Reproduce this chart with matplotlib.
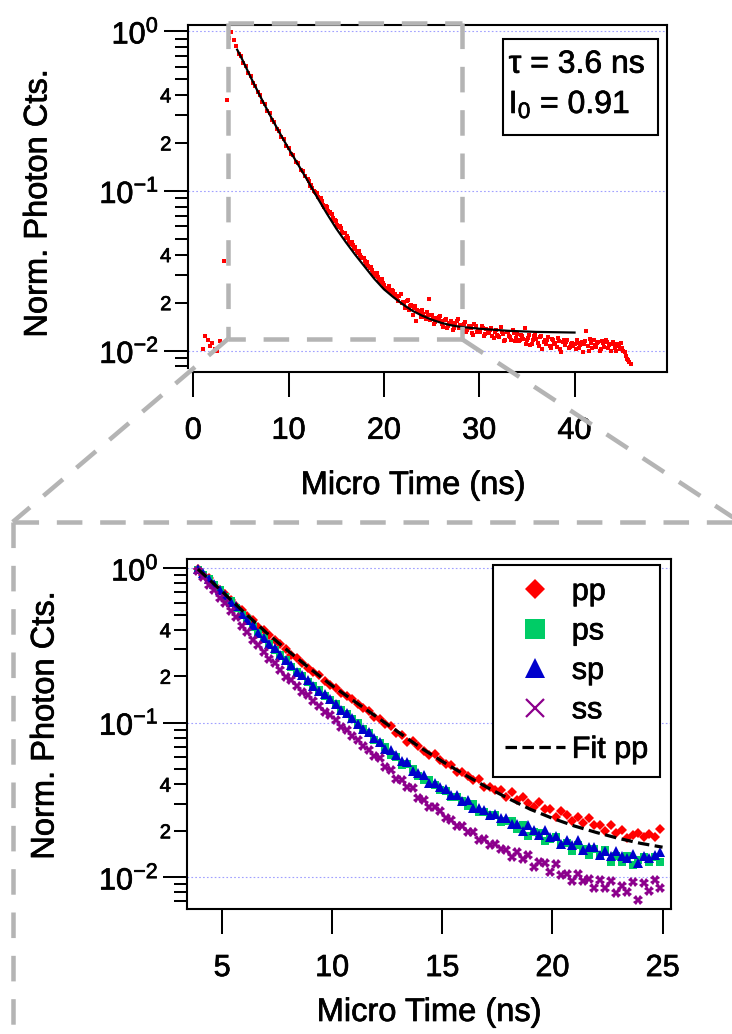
import numpy as np
import matplotlib
matplotlib.use('Agg')
import matplotlib.pyplot as plt
import matplotlib.patheffects as pe
from matplotlib.lines import Line2D
from matplotlib.patches import Rectangle
from matplotlib.text import Text
from matplotlib.ticker import FixedLocator, FixedFormatter, LogLocator, FuncFormatter, NullLocator

plt.rcParams['font.family'] = ['Liberation Sans', 'DejaVu Sans']
plt.rcParams['mathtext.fontset'] = 'custom'
plt.rcParams['mathtext.rm'] = 'Liberation Sans'
plt.rcParams['mathtext.it'] = 'Liberation Sans:italic'
plt.rcParams['mathtext.bf'] = 'Liberation Sans:bold'

# ---------------- data (log10 of normalised photon counts) ----------------
# top panel: full decay, time bins 1.0 ... 45.75 ns, step 0.25 ns
top_t0, top_dt = 1.0, 0.25
top_log = [
    -1.99, -1.91, -1.93, -1.97,   -1.95, -1.99, -2.00, -1.94,
    -1.95, -1.44, -0.43, -0.04,   -0.005, -0.055, -0.095, -0.140,
    -0.152, -0.198, -0.215, -0.262, -0.278, -0.322, -0.340, -0.383,
    -0.398, -0.441, -0.455, -0.497, -0.512, -0.556, -0.569, -0.611,
    -0.622, -0.664, -0.675, -0.716, -0.728, -0.768, -0.776, -0.818,
    -0.826, -0.869, -0.877, -0.905, -0.925, -0.968, -0.978, -1.008,
    -1.015, -1.050, -1.062, -1.098, -1.100, -1.138, -1.145, -1.185,
    -1.185, -1.228, -1.232, -1.262, -1.292, -1.295, -1.330, -1.335,
    -1.352, -1.385, -1.402, -1.420, -1.440, -1.445, -1.480, -1.492,
    -1.520, -1.515, -1.560, -1.548, -1.590, -1.615, -1.597, -1.640,
    -1.628, -1.660, -1.690, -1.645, -1.695, -1.735, -1.680, -1.722,
    -1.778, -1.720, -1.742, -1.760, -1.745, -1.790, -1.760, -1.675,
    -1.778, -1.835, -1.795, -1.790, -1.812, -1.850, -1.800, -1.842,
    -1.815, -1.872, -1.828, -1.800, -1.838, -1.875, -1.822, -1.868,
    -1.842, -1.890, -1.835, -1.880, -1.870, -1.845, -1.905, -1.862,
    -1.890, -1.858, -1.920, -1.872, -1.905, -1.850, -1.895, -1.930,
    -1.880, -1.915, -1.870, -1.942, -1.895, -1.930, -1.905, -1.860,
    -1.935, -1.900, -1.955, -1.910, -1.925, -1.970, -1.905, -1.945,
    -1.960, -1.915, -1.980, -1.935, -1.950, -1.920, -1.990, -1.945,
    -1.965, -1.930, -1.975, -1.950, -1.960, -1.935, -1.985, -1.945,
    -1.955, -1.875, -2.000, -1.950, -1.935, -1.975, -1.945, -1.990,
    -1.950, -1.930, -1.985, -1.960, -1.945, -1.980, -1.955, -1.990,
    -1.985, -2.010, -2.050, -2.070,
]
# top panel: samples lying between the above bins, 12.125 ... 45.875 ns
top_mid_t0 = 12.125
top_mid_log = [
    -0.940, -0.960, -1.000, -1.012, -1.035, -1.045, -1.085, -1.095,
    -1.125, -1.130, -1.170, -1.180, -1.210, -1.220, -1.255, -1.262,
    -1.280, -1.318, -1.322, -1.360, -1.375, -1.378, -1.415, -1.418,
    -1.455, -1.470, -1.478, -1.515, -1.530, -1.540, -1.572, -1.575,
    -1.610, -1.605, -1.632, -1.620, -1.642, -1.672, -1.655, -1.700,
    -1.702, -1.690, -1.745, -1.715, -1.735, -1.815, -1.750, -1.790,
    -1.770, -1.800, -1.775, -1.805, -1.795, -1.820, -1.810, -1.780,
    -1.830, -1.805, -1.858, -1.825, -1.835, -1.860, -1.812, -1.855,
    -1.860, -1.830, -1.880, -1.845, -1.855, -1.900, -1.848, -1.870,
    -1.885, -1.855, -1.895, -1.875, -1.870, -1.910, -1.880, -1.900,
    -1.915, -1.885, -1.940, -1.880, -1.905, -1.930, -1.890, -1.920,
    -1.940, -1.900, -1.925, -1.955, -1.920, -1.965, -1.930, -1.900,
    -1.950, -1.915, -1.990, -1.930, -1.935, -1.970, -1.925, -1.960,
    -1.975, -1.940, -2.010, -1.930, -1.945, -1.985, -1.955, -1.970,
    -1.990, -1.950, -1.965, -2.005, -1.940, -1.970, -1.925, -1.985,
    -1.965, -1.950, -2.000, -1.940, -1.975, -1.945, -1.965, -2.000,
    -1.960, -2.000, -1.970, -1.950, -2.000, -2.030, -2.060, -2.080,
]
top_fit_t = [4.6, 5, 6, 7, 8, 9, 10, 11, 12, 13, 14, 15, 16, 17, 18, 19, 20,
             21, 22, 23, 24, 25, 26, 27, 28, 30, 33, 36, 40]
top_fit_log = [-0.115, -0.16, -0.285, -0.405, -0.52, -0.63, -0.735, -0.835,
               -0.935, -1.04, -1.14, -1.235, -1.32, -1.40, -1.475, -1.55,
               -1.615, -1.665, -1.71, -1.75, -1.78, -1.805, -1.825, -1.84,
               -1.85, -1.862, -1.875, -1.882, -1.886]
tau_text = "τ = 3.6 ns"
i0_text = r"$\mathregular{I_0}$ = 0.91"

# bottom panel: zoom, time bins 3.9 ... 24.9 ns, step 0.25 ns
bot_t0, bot_dt = 3.9, 0.25
pp_log = [
    -0.003, -0.042, -0.065, -0.106, -0.143, -0.168, -0.204, -0.245, -0.267, -0.309,
    -0.337, -0.377, -0.398, -0.433, -0.466, -0.488, -0.525, -0.561, -0.578, -0.610,
    -0.645, -0.668, -0.692, -0.731, -0.756, -0.776, -0.809, -0.826, -0.844, -0.879,
    -0.902, -0.924, -0.961, -0.974, -1.007, -1.018, -1.065, -1.076, -1.123, -1.116,
    -1.147, -1.184, -1.211, -1.204, -1.240, -1.266, -1.272, -1.316, -1.316, -1.342,
    -1.370, -1.364, -1.414, -1.415, -1.436, -1.435, -1.480, -1.450, -1.498, -1.483,
    -1.517, -1.547, -1.513, -1.560, -1.555, -1.608, -1.571, -1.597, -1.637, -1.610,
    -1.649, -1.614, -1.660, -1.660, -1.699, -1.664, -1.711, -1.692, -1.745, -1.725,
    -1.711, -1.741, -1.721, -1.741, -1.686,
]
ps_log = [
    -0.008, -0.043, -0.067, -0.109, -0.139, -0.184, -0.214, -0.258, -0.301, -0.331,
    -0.377, -0.422, -0.449, -0.489, -0.531, -0.561, -0.594, -0.639, -0.668, -0.696,
    -0.737, -0.761, -0.785, -0.825, -0.852, -0.879, -0.920, -0.943, -0.978, -1.003,
    -1.041, -1.068, -1.109, -1.131, -1.156, -1.207, -1.222, -1.272, -1.267, -1.301,
    -1.342, -1.373, -1.367, -1.404, -1.432, -1.439, -1.483, -1.483, -1.509, -1.536,
    -1.527, -1.575, -1.576, -1.598, -1.597, -1.642, -1.633, -1.637, -1.685, -1.661,
    -1.734, -1.709, -1.710, -1.762, -1.750, -1.740, -1.790, -1.777, -1.827, -1.792,
    -1.815, -1.853, -1.818, -1.855, -1.826, -1.901, -1.865, -1.898, -1.862, -1.922,
    -1.889, -1.867, -1.900, -1.871, -1.901,
]
sp_log = [
    -0.002, -0.030, -0.070, -0.101, -0.143, -0.170, -0.216, -0.247, -0.299, -0.332,
    -0.369, -0.417, -0.448, -0.489, -0.517, -0.563, -0.596, -0.625, -0.669, -0.693,
    -0.723, -0.760, -0.793, -0.812, -0.849, -0.876, -0.916, -0.939, -0.968, -1.006,
    -1.039, -1.059, -1.100, -1.125, -1.170, -1.175, -1.208, -1.250, -1.253, -1.309,
    -1.324, -1.335, -1.389, -1.390, -1.418, -1.429, -1.467, -1.465, -1.503, -1.498,
    -1.549, -1.549, -1.562, -1.596, -1.589, -1.618, -1.615, -1.657, -1.657, -1.702,
    -1.664, -1.691, -1.728, -1.695, -1.739, -1.733, -1.782, -1.759, -1.791, -1.760,
    -1.822, -1.807, -1.803, -1.858, -1.832, -1.862, -1.832, -1.863, -1.875, -1.852,
    -1.909, -1.863, -1.876, -1.857, -1.834,
]
ss_log = [
    -0.020, -0.056, -0.106, -0.139, -0.190, -0.224, -0.278, -0.317, -0.375, -0.415,
    -0.465, -0.497, -0.541, -0.588, -0.614, -0.659, -0.701, -0.725, -0.760, -0.799,
    -0.820, -0.862, -0.890, -0.927, -0.949, -0.979, -1.024, -1.048, -1.086, -1.110,
    -1.148, -1.173, -1.217, -1.231, -1.289, -1.307, -1.363, -1.367, -1.414, -1.423,
    -1.485, -1.500, -1.547, -1.547, -1.568, -1.617, -1.629, -1.671, -1.669, -1.708,
    -1.704, -1.758, -1.754, -1.790, -1.782, -1.816, -1.823, -1.871, -1.833, -1.883,
    -1.853, -1.934, -1.904, -1.906, -1.964, -1.917, -1.983, -1.977, -2.027, -1.978,
    -2.024, -2.010, -2.072, -2.020, -2.070, -2.024, -2.103, -2.054, -2.095, -2.032,
    -2.150, -2.037, -2.086, -2.017, -2.072,
]
fit_t = [3.9, 5, 6, 7, 8, 9, 10, 11, 12, 13, 14, 15, 16, 17, 18, 19, 20, 21, 22, 23, 24, 25]
fit_log = [-0.005, -0.15, -0.285, -0.415, -0.535, -0.65, -0.76, -0.86, -0.96, -1.06,
           -1.16, -1.25, -1.335, -1.415, -1.49, -1.56, -1.618, -1.668, -1.71, -1.748,
           -1.78, -1.805]
series_names = ['pp', 'ps', 'sp', 'ss']
fit_name = 'Fit pp'

top_xticks = [0, 10, 20, 30, 40]
bot_xticks = [5, 10, 15, 20, 25]
y_major = [1.0, 0.1, 0.01]
y_major_labels = [r'$10^{0}$', r'$10^{-1}$', r'$10^{-2}$']

# ---------------- figure ----------------
W, H = 732, 1034
fig = plt.figure(figsize=(W / 100, H / 100), dpi=100)

def fx(px):
    return px / W

def fy(py):
    return 1 - py / H

ax1 = fig.add_axes([fx(187.7), fy(372), fx(666.7) - fx(187.7), fy(25) - fy(372)])
ax2 = fig.add_axes([fx(187.3), fy(909.3), fx(670.7) - fx(187.3), fy(558.5) - fy(909.3)])

RED, GREEN, BLUE, PURPLE = '#ff0000', '#00cc66', '#0000cc', '#8c008c'

top_t = top_t0 + top_dt * np.arange(len(top_log))
top_mid_t = top_mid_t0 + top_dt * np.arange(len(top_mid_log))
bot_t = bot_t0 + bot_dt * np.arange(len(pp_log))

ax1.plot(np.concatenate([top_t, top_mid_t]),
         10 ** np.concatenate([np.array(top_log), np.array(top_mid_log)]),
         's', ms=3.5, mew=0, color=RED, zorder=3)
ax1.plot(top_fit_t, 10 ** np.array(top_fit_log), '-', lw=1.6, color='black', zorder=4)

ax2.plot(bot_t, 10 ** np.array(pp_log), 'D', ms=4.9, mew=0, color=RED, zorder=3)
ax2.plot(bot_t, 10 ** np.array(ps_log), 's', ms=5.6, mew=0, color=GREEN, zorder=3)
ax2.plot(bot_t, 10 ** np.array(sp_log), '^', ms=6.6, mew=0, color=BLUE, zorder=3)
ax2.plot(bot_t, 10 ** np.array(ss_log), 'X', ms=7.0, mew=0, color=PURPLE, zorder=3)
ax2.plot(fit_t, 10 ** np.array(fit_log), color='black', lw=2.3,
         linestyle=(0, (3.6, 1.7)), zorder=4)

ax1.set_xlim(-0.59, 49.67)
ax1.set_ylim(10 ** -2.133, 10 ** 0.0394)
ax2.set_xlim(3.42, 25.37)
ax2.set_ylim(10 ** -2.207, 10 ** 0.0634)

def minor_fmt(v, p):
    m = int(round(v / 10 ** np.floor(np.log10(v) + 1e-9)))
    return str(m) if m in (2, 4) else ''

for ax in (ax1, ax2):
    ax.set_yscale('log')
    ax.yaxis.set_major_locator(FixedLocator(y_major))
    ax.yaxis.set_major_formatter(FixedFormatter(y_major_labels))
    ax.yaxis.set_minor_locator(LogLocator(base=10, subs=np.arange(2, 10)))
    ax.yaxis.set_minor_formatter(FuncFormatter(minor_fmt))
    ax.xaxis.set_minor_locator(NullLocator())
    ax.tick_params(axis='both', which='both', direction='out', width=1.45, color='black')
    ax.tick_params(axis='y', which='major', length=17.3, pad=3.4, labelsize=22)
    ax.tick_params(axis='y', which='minor', length=9.4, pad=2.4, labelsize=14.5)
    ax.tick_params(axis='x', which='major', length=18, pad=13.5, labelsize=22)
    for s in ax.spines.values():
        s.set_linewidth(1.5)
    ax.yaxis.grid(True, which='major', color='#a0a0ff', linewidth=0.8,
                  linestyle=(0, (1.5, 2.0)))
    ax.set_axisbelow(True)

ax1.set_xticks(top_xticks)
ax1.set_xticklabels([str(v) for v in top_xticks])
ax2.set_xticks(bot_xticks)
ax2.set_xticklabels([str(v) for v in bot_xticks])

ax1.spines['bottom'].set_bounds(-0.14, 49.67)
ax1.spines['left'].set_bounds(10 ** -2.108, 10 ** 0.0394)

# axis labels
ax1.set_ylabel('Norm. Photon Cts.', fontsize=23.5, va='center')
ax1.yaxis.set_label_coords((38 - 187.7) / 479.0, (372 - 203.5) / 347.0)
ax1.set_xlabel('Micro Time (ns)', fontsize=23.5, va='baseline')
ax1.xaxis.set_label_coords((413 - 187.7) / 479.0, (372 - 494) / 347.0)

ax2.set_ylabel('Norm. Photon Cts.', fontsize=23.5, va='center')
ax2.yaxis.set_label_coords((45 - 187.3) / 483.4, (909.3 - 725.6) / 350.8)
ax2.set_xlabel('Micro Time (ns)', fontsize=23.5, va='baseline')
ax2.xaxis.set_label_coords(0.5, (909.3 - 1021) / 350.8)

# annotation box (top panel)
bx0, bx1 = (502.7 - 187.7) / 479.0, (657.7 - 187.7) / 479.0
by0, by1 = (372 - 135) / 347.0, (372 - 39) / 347.0
ax1.add_patch(Rectangle((bx0, by0), bx1 - bx0, by1 - by0, transform=ax1.transAxes,
                        fill=True, facecolor='white', edgecolor='black', lw=1.5, zorder=6))
ax1.text((508.7 - 187.7) / 479.0, (372 - 72.7) / 347.0, tau_text, transform=ax1.transAxes,
         fontsize=23, ha='left', va='baseline', zorder=7)
ax1.text((508.7 - 187.7) / 479.0, (372 - 113) / 347.0, i0_text, transform=ax1.transAxes,
         fontsize=23, ha='left', va='baseline', zorder=7)

# legend (bottom panel)
h_pp = Line2D([], [], marker='D', ms=10.2, mew=0, ls='none', color=RED)
h_ps = Line2D([], [], marker='s', ms=14.0, mew=0, ls='none', color=GREEN)
h_sp = Line2D([], [], marker='^', ms=14.0, mew=0, ls='none', color=BLUE)
h_ss = Line2D([], [], marker='x', ms=13.0, mew=1.6, ls='none', color=PURPLE)
h_fit = Line2D([], [], color='black', lw=2.3, linestyle=(0, (3.6, 1.7)))
leg = ax2.legend([h_pp, h_ps, h_sp, h_ss, h_fit], series_names + [fit_name],
                 loc='upper right', bbox_to_anchor=((660 - 187.3) / 483.4, (909.3 - 564.7) / 350.8),
                 fontsize=22, frameon=True, fancybox=False, edgecolor='black', framealpha=1,
                 borderpad=0.4, labelspacing=0.31, handlelength=1.96, handletextpad=0.22,
                 borderaxespad=0)
leg.get_frame().set_linewidth(1.5)

# gray dashed zoom indicators (figure pixel coordinates)
GRAY = '#b4b4b4'
LW = 3.24
dash = (0, (18.4 / LW, 12.8 / LW))

def gline(pts):
    xs = [fx(p[0]) for p in pts]
    ys = [fy(p[1]) for p in pts]
    fig.add_artist(Line2D(xs, ys, transform=fig.transFigure, color=GRAY, lw=LW,
                          linestyle=dash, dash_capstyle='butt', zorder=10))

gline([(228, 22.7), (461.7, 22.7)])
gline([(461.7, 22.7), (461.7, 339)])
gline([(461.7, 339), (228, 339)])
gline([(228, 22.7), (228, 339)])
gline([(228, 339), (12.7, 522)])
gline([(461.7, 339), (740, 522)])
gline([(12.7, 522), (740, 522)])
gline([(12.7, 522), (12.7, 1040)])

# slightly heavier text strokes, as in the reference rendering
fig.canvas.draw()
for t in fig.findobj(Text):
    t.set_path_effects([pe.withStroke(linewidth=0.5, foreground='black')])

fig.savefig('out.png', dpi=100)
